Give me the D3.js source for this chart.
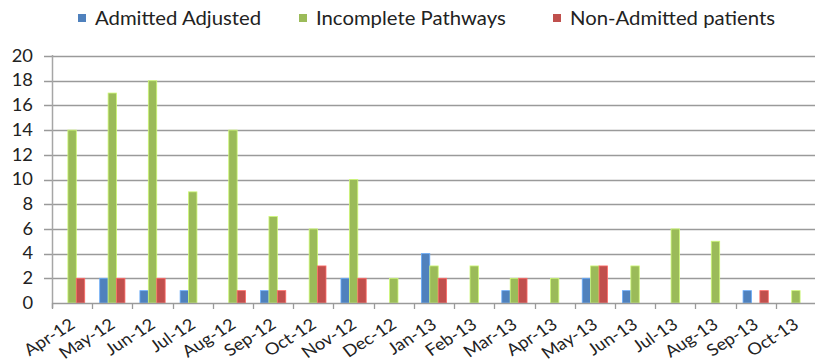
<!DOCTYPE html>
<html>
<head>
<meta charset="utf-8">
<script src="https://cdn.jsdelivr.net/npm/d3@7"></script>
<style>
  html, body { margin: 0; padding: 0; background: #fff; }
  svg { display: block; }
  text { font-family: Lato, Calibri, "Open Sans", sans-serif; fill: #222; }
</style>
</head>
<body>
<svg id="chart" width="815" height="363"></svg>
<script>
// Monthly counts per pathway type
const months = ["Apr-12","May-12","Jun-12","Jul-12","Aug-12","Sep-12","Oct-12","Nov-12","Dec-12",
                "Jan-13","Feb-13","Mar-13","Apr-13","May-13","Jun-13","Jul-13","Aug-13","Sep-13","Oct-13"];
const admittedAdjusted   = [0, 2, 1, 1, 0, 1, 0, 2, 0, 4, 0, 1, 0, 2, 1, 0, 0, 1, 0];
const incompletePathways = [14, 17, 18, 9, 14, 7, 6, 10, 2, 3, 3, 2, 2, 3, 3, 6, 5, 0, 1];
const nonAdmitted        = [2, 2, 2, 0, 1, 1, 3, 2, 0, 2, 0, 2, 0, 3, 0, 0, 0, 1, 0];
const seriesNames  = ["Admitted Adjusted", "Incomplete Pathways", "Non-Admitted patients"];
const seriesColors = ["#4F81BD", "#9BBB59", "#C0504D"];
const yTicks = [0, 2, 4, 6, 8, 10, 12, 14, 16, 18, 20];

const seriesValues = [admittedAdjusted, incompletePathways, nonAdmitted];
const svg = d3.select("#chart");

const plotLeft = 52, plotRight = 816, plotTop = 56, plotBottom = 303;
const stretch = 1.11;   // text is drawn slightly wide

const x = d3.scaleBand().domain(months).range([plotLeft, plotRight]).paddingInner(0).paddingOuter(0);
const x1 = d3.scaleBand().domain(seriesNames).range([0, x.bandwidth()]).paddingInner(0).paddingOuter(0.89);
const y = d3.scaleLinear().domain([0, 20]).range([plotBottom, plotTop]);

// horizontal gridlines
svg.append("g")
  .selectAll("line")
  .data(yTicks.filter(d => d > 0))
  .join("line")
  .attr("x1", plotLeft - 8).attr("x2", plotRight)
  .attr("y1", d => Math.round(y(d)) + 0.5).attr("y2", d => Math.round(y(d)) + 0.5)
  .attr("stroke", "#9a9a9a").attr("stroke-width", 1.3);

// y axis labels
const yAxis = d3.axisLeft(y).tickValues(yTicks).tickSize(0).tickPadding(0);
const gy = svg.append("g").attr("transform", `translate(${plotLeft},0)`).call(yAxis);
gy.select(".domain").remove();
gy.selectAll("text")
  .style("font-size", "16.5px")
  .attr("fill", "#222")
  .attr("x", 0)
  .attr("transform", `translate(-19,0) scale(${stretch},1)`);

// bars
const groups = svg.append("g")
  .selectAll("g")
  .data(months.map((m, i) => ({ m, i })))
  .join("g")
  .attr("transform", d => `translate(${x(d.m)},0)`);

groups.selectAll("rect")
  .data(d => seriesNames.map((s, k) => ({ s, k, v: seriesValues[k][d.i] })).filter(b => b.v > 0))
  .join("rect")
  .attr("x", b => x1(b.s))
  .attr("width", x1.bandwidth())
  .attr("y", b => y(b.v))
  .attr("height", b => y(0) - y(b.v))
  .attr("fill", b => seriesColors[b.k])
  .attr("stroke", b => d3.color(seriesColors[b.k]).brighter(0.8))
  .attr("stroke-width", 0.8);

// y axis line
svg.append("line")
  .attr("x1", plotLeft + 0.5).attr("x2", plotLeft + 0.5)
  .attr("y1", plotTop - 1).attr("y2", plotBottom + 5)
  .attr("stroke", "#a6a6a6").attr("stroke-width", 1.5);

// x axis with category ticks and slanted labels
const xAxis = d3.axisBottom(x).tickSize(0).tickPadding(0);
const gx = svg.append("g").attr("transform", `translate(0,${plotBottom})`).call(xAxis);
gx.select(".domain").remove();
gx.selectAll("text")
  .style("font-size", "16.5px")
  .attr("fill", "#222")
  .attr("text-anchor", "end")
  .attr("dy", null)
  .attr("y", 0)
  .attr("transform", `translate(4,24) scale(${stretch},1) rotate(-35)`);

svg.append("line")
  .attr("x1", plotLeft).attr("x2", plotRight)
  .attr("y1", plotBottom + 0.5).attr("y2", plotBottom + 0.5)
  .attr("stroke", "#9a9a9a").attr("stroke-width", 1.5);

svg.append("g")
  .selectAll("line")
  .data(months.map((m, i) => x.range()[0] + i * x.step()).concat([plotRight]))
  .join("line")
  .attr("x1", d => Math.round(d) + 0.5).attr("x2", d => Math.round(d) + 0.5)
  .attr("y1", plotBottom).attr("y2", plotBottom + 6)
  .attr("stroke", "#9a9a9a").attr("stroke-width", 1.3);

// legend
const legendX = [78, 299, 553];
const legend = svg.append("g").selectAll("g")
  .data(seriesNames)
  .join("g")
  .attr("transform", (d, i) => `translate(${legendX[i]},18)`);
legend.append("rect")
  .attr("x", 0).attr("y", -4).attr("width", 8).attr("height", 8)
  .attr("fill", (d, i) => seriesColors[i]);
legend.append("text")
  .attr("x", 0).attr("y", 0).attr("dy", "0.36em")
  .attr("transform", `translate(17,0) scale(${stretch},1)`)
  .style("font-size", "18.3px")
  .text(d => d);
</script>
</body>
</html>
